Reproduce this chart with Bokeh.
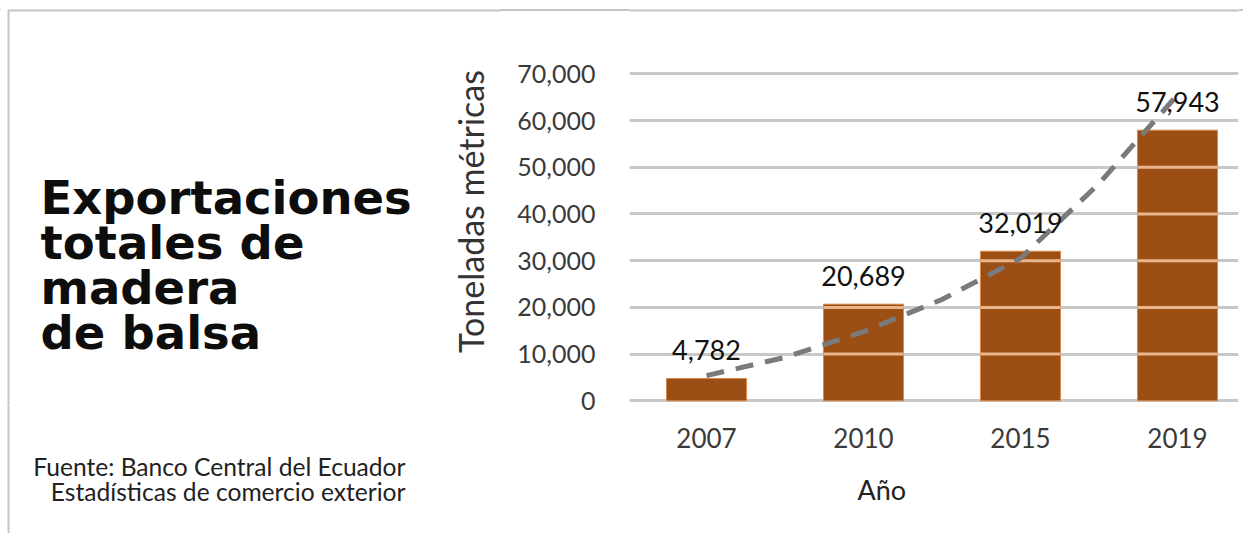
import math
from bokeh.plotting import figure
from bokeh.layouts import row, column
from bokeh.models import (ColumnDataSource, Range1d, FixedTicker, NumeralTickFormatter,
                          Label, LabelSet, Title)
from bokeh.core.properties import value
from bokeh.embed import file_html
from bokeh.resources import INLINE

# ---------------- data ----------------
years = ["2007", "2010", "2015", "2019"]
exports = [4782, 20689, 32019, 57943]
trend_pos = [0, 0.5, 1, 1.5, 2, 2.5, 3]
trend_vals = [5400, 9300, 14800, 21700, 30500, 46500, 65500]
y_ticks = [0, 10000, 20000, 30000, 40000, 50000, 60000, 70000]
title_lines = ["Exportaciones", "totales de", "madera", "de balsa"]
source_lines = ["Fuente: Banco Central del Ecuador", "Estadísticas de comercio exterior"]
y_title = "Toneladas métricas"
x_title = "Año"

FONT = "Lato"
TITLE_FONT = "DejaVu Sans"
BORDER = "#c4c4c4"
H = 533
FH = 405          # height of the chart frame (page px)
LW = 500          # width of the left text panel


def blank(h, y0, y1):
    f = figure(width=LW, height=h, output_backend="svg", toolbar_location=None,
               x_range=Range1d(0, LW), y_range=Range1d(y1, y0),
               min_border=0, min_border_left=0, min_border_right=0,
               min_border_top=0, min_border_bottom=0)
    f.axis.visible = False
    f.grid.visible = False
    f.outline_line_color = None
    f.border_fill_color = "white"
    f.background_fill_color = "white"
    return f


# ================= left panel, upper part (title + y title) =================
lt = blank(FH, 0, FH)
lt.line([8, 8, LW], [FH + 5, 10, 10], line_color=BORDER, line_width=2)
for line, base in zip(title_lines, [197, 242, 287, 332]):
    lt.add_layout(Label(x=40, y=base, text=line, text_align="left",
                        text_baseline="alphabetic", text_font=TITLE_FONT,
                        text_font_style="bold", text_font_size="46.5px",
                        text_color="#0d0d0d"))
lt.add_layout(Label(x=470, y=211, text=y_title, angle=math.pi / 2,
                    text_align="center", text_baseline="middle", text_font=FONT,
                    text_font_size="34px", text_color="#333333"))

# ================= left panel, lower part (source) =================
lb = blank(H - FH, FH, H)
lb.line([8, 8], [FH - 5, H + 5], line_color=BORDER, line_width=2)
for line, base in zip(source_lines, [466, 491]):
    lb.add_layout(Label(x=405, y=base, text=line, text_align="right",
                        text_baseline="alphabetic", text_font=FONT,
                        text_font_size="24.6px", text_color="#222222"))

# ================= right panel (chart) =================
RW = 1243 - LW
FRAME_LEFT = 629 - LW
FRAME_RIGHT_PAD = 1243 - 1238
PX_PER_CAT = 157.0
FW = RW - FRAME_LEFT - FRAME_RIGHT_PAD
x_start = -(706 - 629) / PX_PER_CAT
x_end = x_start + FW / PX_PER_CAT
PX_PER_UNIT = (400 - 73) / 70000.0
y_start = -1000
y_end = y_start + FH / PX_PER_UNIT

p = figure(width=RW, height=H, output_backend="svg", toolbar_location=None,
           x_range=Range1d(x_start, x_end), y_range=Range1d(y_start, y_end),
           min_border_left=FRAME_LEFT, min_border_right=FRAME_RIGHT_PAD, min_border_top=0,
           min_border_bottom=H - FH)
p.outline_line_color = None
p.background_fill_color = "white"
p.border_fill_color = None   # lets the panel's top rule show through the axis area

p.xgrid.visible = False
p.ygrid.ticker = FixedTicker(ticks=y_ticks)
p.ygrid.grid_line_color = "#c8c8c8"
p.ygrid.grid_line_width = 3

p.yaxis.ticker = FixedTicker(ticks=y_ticks)
p.yaxis.formatter = NumeralTickFormatter(format="0,0")
p.yaxis.axis_line_color = None
p.yaxis.major_tick_line_color = None
p.yaxis.minor_tick_line_color = None
p.yaxis.major_label_standoff = 28
p.yaxis.major_label_text_font = FONT
p.yaxis.major_label_text_font_size = "25px"
p.yaxis.major_label_text_color = "#3a3a3a"

p.xaxis.ticker = FixedTicker(ticks=list(range(len(years))))
p.xaxis.major_label_overrides = {i: y for i, y in enumerate(years)}
p.xaxis.axis_line_color = None
p.xaxis.major_tick_line_color = None
p.xaxis.minor_tick_line_color = None
p.xaxis.major_label_standoff = 16
p.xaxis.major_label_text_font = FONT
p.xaxis.major_label_text_font_size = "26px"
p.xaxis.major_label_text_color = "#3a3a3a"

p.add_layout(Title(text=x_title, align="left", offset=228, standoff=40,
                   text_font=FONT, text_font_size="27px", text_font_style="normal",
                   text_color="#222222"), "below")

# top border line continues across the chart frame
border_y = y_start + (FH - 10) / PX_PER_UNIT
p.line([x_start, x_end], [border_y, border_y], line_color=BORDER, line_width=2)

# bars
idx = list(range(len(years)))
src = ColumnDataSource(dict(x=idx, top=exports, lbl=[f"{v:,}" for v in exports]))
BAR_W = 0.51
p.vbar(x="x", top="top", width=BAR_W, source=src, fill_color="#9b4f15",
       line_color="#d9894a", line_width=1)

# light gridline traces showing through the bars
sx0, sx1, sy = [], [], []
for i, v in zip(idx, exports):
    for t in y_ticks[1:]:
        if t < v:
            sx0.append(i - BAR_W / 2); sx1.append(i + BAR_W / 2); sy.append(t)
p.segment(x0=sx0, x1=sx1, y0=sy, y1=sy, line_color="#eab48c", line_width=3)

# trend line
p.line(trend_pos, trend_vals, line_color="#7a7a7a", line_width=5, line_dash="18 12")

# data labels
p.add_layout(LabelSet(x="x", y="top", text="lbl", source=src, y_offset=18,
                      text_align="center", text_baseline="alphabetic",
                      text_font=value(FONT), text_font_size="27px", text_color="#111111"))

layout = row(column(lt, lb, spacing=0), p, spacing=0,
             styles={"background": "linear-gradient(#c4c4c4, #c4c4c4) 0px 9px / 100% 2px no-repeat, #ffffff"})
open("out.html", "w").write(file_html(layout, INLINE))
